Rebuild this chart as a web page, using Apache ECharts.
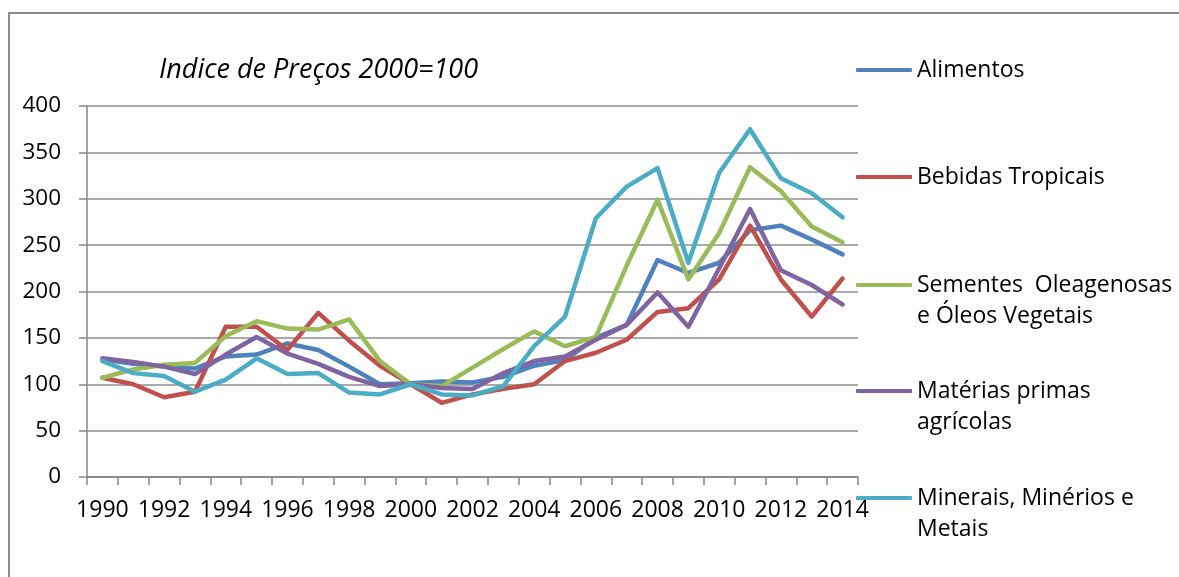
<!DOCTYPE html>
<html lang="pt">
<head>
    <meta charset="UTF-8">
    <title>Indice de Preços 2000=100</title>
    <script src="https://cdn.jsdelivr.net/npm/echarts@6/dist/echarts.min.js"></script>
    <style>
        body, html {
            margin: 0;
            padding: 0;
            background: #fff;
        }
        #frame {
            position: absolute;
            left: 8px;
            top: 12px;
            width: 1300px;
            height: 700px;
            border-left: 2px solid #8c8c8c;
            border-top: 2px solid #8c8c8c;
        }
        #chart {
            position: absolute;
            left: 0;
            top: 0;
            width: 1179px;
            height: 577px;
        }
    </style>
</head>
<body>
<div id="frame"></div>
<div id="chart"></div>
<script>
    // anos
    const years = ['1990', '1991', '1992', '1993', '1994', '1995', '1996', '1997', '1998', '1999',
        '2000', '2001', '2002', '2003', '2004', '2005', '2006', '2007', '2008', '2009',
        '2010', '2011', '2012', '2013', '2014'];

    // séries
    const alimentos = [127, 122, 119, 117, 130, 132, 144, 137, 119, 100, 101, 103, 102, 108, 120, 126, 150, 164, 234, 220, 231, 266, 271, 256, 240];
    const bebidas = [107, 100, 86, 92, 162, 162, 137, 177, 147, 120, 100, 80, 89, 95, 100, 125, 134, 148, 178, 182, 213, 271, 213, 173, 214];
    const sementes = [107, 116, 121, 123, 152, 168, 160, 159, 170, 125, 100, 98, 118, 138, 157, 141, 151, 228, 299, 213, 263, 334, 308, 270, 253];
    const materias = [128, 124, 119, 111, 132, 151, 133, 122, 108, 98, 100, 96, 95, 112, 125, 130, 148, 164, 199, 162, 225, 289, 223, 207, 186];
    const minerais = [125, 112, 109, 92, 105, 128, 111, 112, 91, 89, 100, 89, 88, 98, 141, 173, 279, 313, 333, 231, 328, 375, 322, 306, 280];

    const names = ['Alimentos', 'Bebidas Tropicais', 'Sementes  Oleagenosas\ne Óleos Vegetais',
        'Matérias primas\nagrícolas', 'Minerais, Minérios e\nMetais'];
    const values = [alimentos, bebidas, sementes, materias, minerais];
    const colors = ['#4F81BD', '#C0504D', '#9BBB59', '#8064A2', '#4BACC6'];

    const font = 'Open Sans';
    const lineH = 31;
    // centro do ícone de cada item da legenda
    const legendY = [70, 177, 285, 391, 498];

    // uma legenda por série; nas de duas linhas uma linha vazia em cima
    // deixa a primeira linha alinhada com o traço
    const legends = names.map((name, i) => {
        const twoLines = name.indexOf('\n') >= 0;
        return {
            data: [name],
            orient: 'vertical',
            left: 856,
            top: legendY[i] - (twoLines ? lineH * 1.5 : lineH / 2),
            padding: 0,
            icon: 'roundRect',
            itemWidth: 56,
            itemHeight: 4,
            selectedMode: false,
            formatter: n => (twoLines ? '\n' + n : n),
            textStyle: {
                fontFamily: font,
                fontSize: 23,
                color: '#000',
                lineHeight: lineH
            }
        };
    });

    const chart = echarts.init(document.getElementById('chart'));
    const option = {
        animation: false,
        title: {
            text: 'Indice de Preços 2000=100',
            left: 159,
            top: 57,
            padding: 0,
            textStyle: {
                fontFamily: font,
                fontSize: 27,
                fontStyle: 'italic',
                fontWeight: 'normal',
                color: '#000'
            }
        },
        legend: legends,
        grid: {
            left: 87,
            right: 321,
            top: 106,
            bottom: 100
        },
        xAxis: {
            type: 'category',
            data: years,
            boundaryGap: true,
            axisLine: {lineStyle: {color: '#868686', width: 1.5}},
            axisTick: {show: true, interval: 0, length: 8, lineStyle: {color: '#868686', width: 1.5}},
            axisLabel: {
                interval: 1,
                margin: 22,
                fontFamily: font,
                fontSize: 23,
                color: '#000'
            }
        },
        yAxis: {
            type: 'value',
            min: 0,
            max: 400,
            interval: 50,
            axisLine: {show: true, lineStyle: {color: '#868686', width: 1.5}},
            axisTick: {show: true, length: 8, lineStyle: {color: '#868686', width: 1.5}},
            splitLine: {lineStyle: {color: '#8c8c8c', width: 1.5}},
            axisLabel: {
                margin: 26,
                fontFamily: font,
                fontSize: 22.5,
                color: '#000'
            }
        },
        series: names.map((name, i) => ({
            name: name,
            type: 'line',
            data: values[i],
            symbol: 'none',
            color: colors[i],
            lineStyle: {width: 4.5, color: colors[i], join: 'round', cap: 'round'}
        }))
    };
    chart.setOption(option);
</script>
</body>
</html>
